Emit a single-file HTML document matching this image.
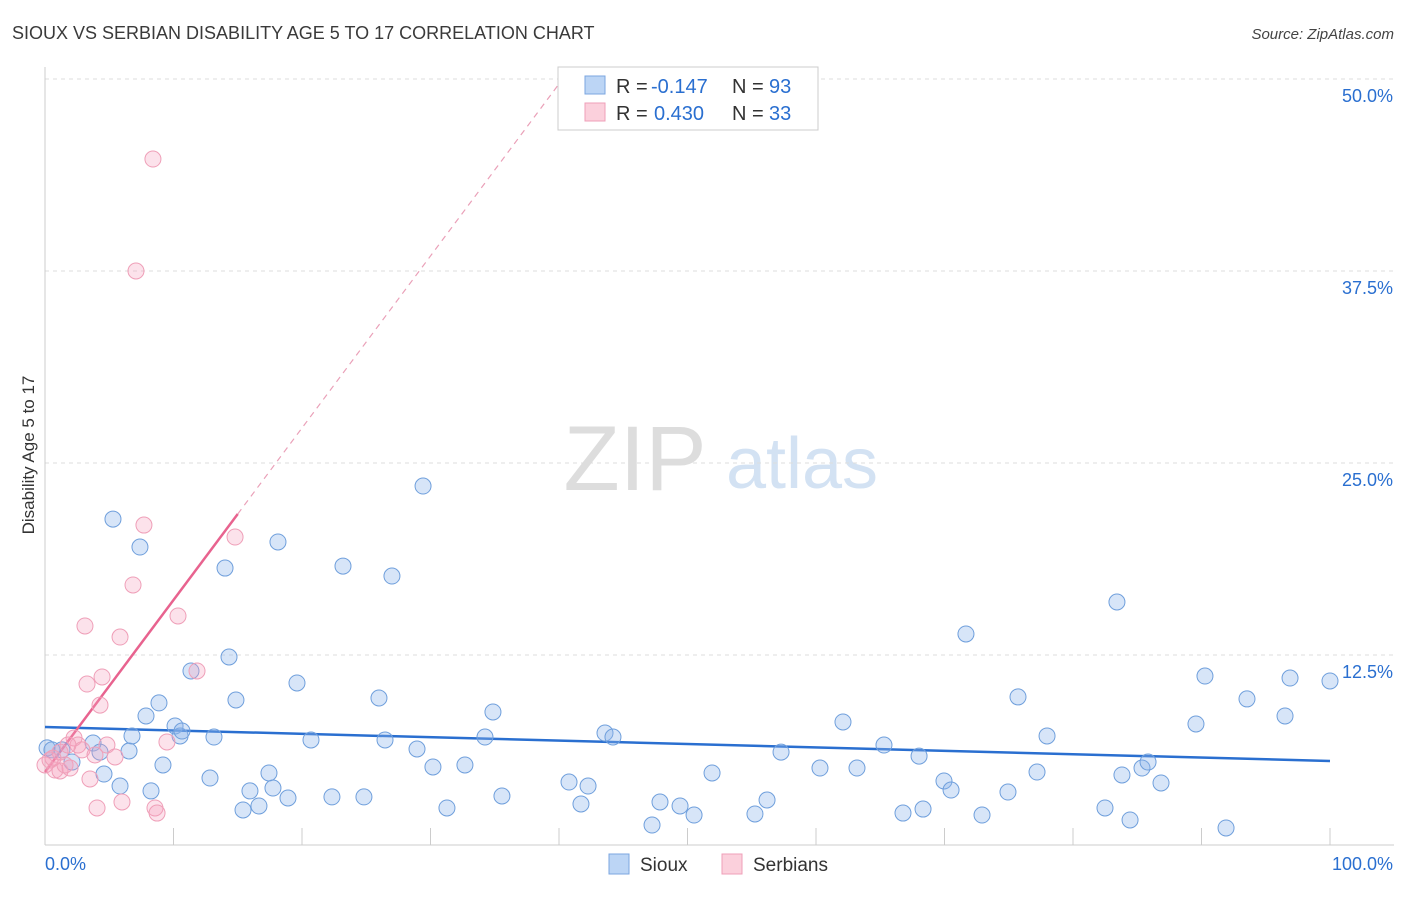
<!DOCTYPE html>
<html><head><meta charset="utf-8"><style>
body{margin:0;background:#fff;font-family:"Liberation Sans",sans-serif;}
svg text{font-family:"Liberation Sans",sans-serif;}
</style></head><body>
<svg id="chart" width="1406" height="892" viewBox="0 0 1406 892">
<text x="12" y="39" font-size="18" fill="#3a3a3a">SIOUX VS SERBIAN DISABILITY AGE 5 TO 17 CORRELATION CHART</text>
<text x="1394" y="39" font-size="15" fill="#444" font-style="italic" text-anchor="end">Source: ZipAtlas.com</text>
<text x="34" y="455" font-size="17" fill="#333" text-anchor="middle" transform="rotate(-90 34 455)">Disability Age 5 to 17</text>
<g><text x="635" y="490" font-size="92" fill="#ddd" font-family="Liberation Serif" text-anchor="middle">ZIP</text><text x="802" y="488" font-size="72" fill="#d3e2f3" text-anchor="middle">atlas</text></g>
<g id="grid"></g><g id="axes"></g><g id="lines"></g><g id="pts"></g>
<g>
<rect x="558" y="67" width="260" height="63" fill="#fff" stroke="#ccc"/>
<rect x="585" y="76" width="20" height="18" fill="#bcd5f5" stroke="#7ba6e0"/>
<rect x="585" y="103" width="20" height="18" fill="#fbd0dc" stroke="#ef9fb8"/>
<text x="616" y="93" font-size="20" fill="#333">R =</text>
<text x="651" y="93" font-size="20" fill="#2a6fd0">-0.147</text>
<text x="732" y="93" font-size="20" fill="#333">N =</text>
<text x="769" y="93" font-size="20" fill="#2a6fd0">93</text>
<text x="616" y="120" font-size="20" fill="#333">R =</text>
<text x="654" y="120" font-size="20" fill="#2a6fd0">0.430</text>
<text x="732" y="120" font-size="20" fill="#333">N =</text>
<text x="769" y="120" font-size="20" fill="#2a6fd0">33</text>
</g>
<g>
<rect x="609" y="854" width="20" height="20" fill="#bcd5f5" stroke="#7ba6e0"/>
<text x="640" y="871" font-size="19" fill="#333">Sioux</text>
<rect x="722" y="854" width="20" height="20" fill="#fbd0dc" stroke="#ef9fb8"/>
<text x="753" y="871" font-size="19" fill="#333">Serbians</text>
</g>
</svg>
<script>
const yTicks=[12.5,25,37.5,50];
const yTickLabels=["12.5%","25.0%","37.5%","50.0%"];
const xTicks=[0,10,20,30,40,50,60,70,80,90,100];
const siouxX=[0.16,0.54,1.32,2.1,3.74,4.28,4.59,5.29,5.84,6.54,6.77,7.39,7.86,8.25,8.87,9.18,10.12,10.51,10.66,11.36,12.84,13.15,14.01,14.32,14.86,15.41,15.95,16.65,17.43,17.74,18.13,18.91,19.61,20.7,22.33,23.19,24.82,25.99,26.46,27.0,28.95,29.42,30.19,31.28,32.68,34.24,34.86,35.56,40.78,41.71,42.26,43.58,44.2,47.24,47.86,49.42,50.51,51.91,55.25,56.19,57.28,60.31,62.1,63.19,65.29,66.77,68.02,68.33,69.96,70.51,71.67,72.92,74.94,75.72,77.2,77.98,82.49,83.42,83.81,84.44,85.37,85.84,86.85,89.57,90.27,91.91,93.54,96.5,96.89,100];
const siouxY=[6.45,6.32,6.32,5.53,6.77,6.18,4.75,21.35,3.97,6.25,7.23,19.53,8.53,3.65,9.38,5.34,7.88,7.23,7.55,11.46,4.49,7.16,18.16,12.37,9.57,2.41,3.65,2.67,4.82,3.84,19.86,3.19,10.68,6.97,3.26,18.29,3.26,9.7,6.97,17.64,6.38,23.5,5.21,2.54,5.34,7.16,8.79,3.32,4.23,2.8,3.97,7.42,7.16,1.43,2.93,2.67,2.08,4.82,2.15,3.06,6.18,5.14,8.14,5.14,6.64,2.21,5.92,2.47,4.3,3.71,13.87,2.08,3.58,9.77,4.88,7.23,2.54,15.95,4.69,1.76,5.14,5.53,4.17,8.01,11.13,1.24,9.64,8.53,11.0,10.81];
const serbX=[0,0.39,0.78,1.17,1.56,1.95,2.26,2.57,2.88,3.11,3.27,3.5,3.89,4.05,4.28,4.44,4.82,5.45,5.84,5.99,6.85,7.08,7.7,8.4,8.56,8.72,9.49,10.35,11.83,14.79,1.17,0.62,1.79];
const serbY=[5.34,5.66,5.01,4.95,5.34,5.14,7.1,6.64,6.32,14.39,10.61,4.43,5.99,2.54,9.24,11.07,6.64,5.86,13.67,2.93,17.06,37.5,20.96,44.79,2.54,2.21,6.84,15.04,11.46,20.18,6.18,5.79,6.64];
const siouxTrend=[7.81,5.6];
const serbTrend=[4.88,1.12];
const NS="http://www.w3.org/2000/svg";
const X=v=>45+v*12.85, Y=v=>847-v*15.36;
function mk(p,t,a){const e=document.createElementNS(NS,t);for(const k in a)e.setAttribute(k,a[k]);document.getElementById(p).appendChild(e);return e;}
yTicks.forEach((t,i)=>{
 const g=mk('grid','line',{x1:45,x2:1394,y1:Y(t),y2:Y(t),stroke:'#ddd','stroke-dasharray':'4,4'});
 
 
 const l=mk('axes','text',{x:1393,y:Y(t)+23,'font-size':18,fill:'#2a6fd0','text-anchor':'end'});
 l.textContent=yTickLabels[i];
 
 
});
const ax=mk('axes','line',{x1:45,x2:1394,y1:845,y2:845,stroke:'#ccc'});


const ay=mk('axes','line',{x1:45,x2:45,y1:67,y2:845,stroke:'#ccc'});


xTicks.forEach(t=>{const e=mk('axes','line',{x1:X(t),x2:X(t),y1:828,y2:845,stroke:'#ccc'});
 
 });
const xl0=mk('axes','text',{x:45,y:870,'font-size':18,fill:'#2a6fd0','text-anchor':'start'});xl0.textContent='0.0%';


const xl1=mk('axes','text',{x:1393,y:870,'font-size':18,fill:'#2a6fd0','text-anchor':'end'});xl1.textContent='100.0%';


siouxX.forEach((x,i)=>{const c=mk('pts','circle',{cx:X(x),cy:Y(siouxY[i]),r:8,fill:'rgba(140,180,235,0.35)',stroke:'#6f9fdc','stroke-width':1});
 
 });
serbX.forEach((x,i)=>{const c=mk('pts','circle',{cx:X(x),cy:Y(serbY[i]),r:8,fill:'rgba(245,160,190,0.3)',stroke:'#ef9fb8','stroke-width':1});
 
 });
const bl=mk('lines','line',{x1:X(0),y1:Y(siouxTrend[0]),x2:X(100),y2:Y(siouxTrend[1]),stroke:'#2a6fd0','stroke-width':2.5});


const ps=mk('lines','line',{x1:X(0),y1:Y(serbTrend[0]),x2:X(15),y2:Y(serbTrend[0]+15*serbTrend[1]),stroke:'#e8638f','stroke-width':2.5});


const pd=mk('lines','line',{x1:X(15),y1:Y(serbTrend[0]+15*serbTrend[1]),x2:X(40.3),y2:Y(serbTrend[0]+40.3*serbTrend[1]),stroke:'#eaa0b8','stroke-width':1.2,'stroke-dasharray':'6,5'});


</script>
</body></html>
